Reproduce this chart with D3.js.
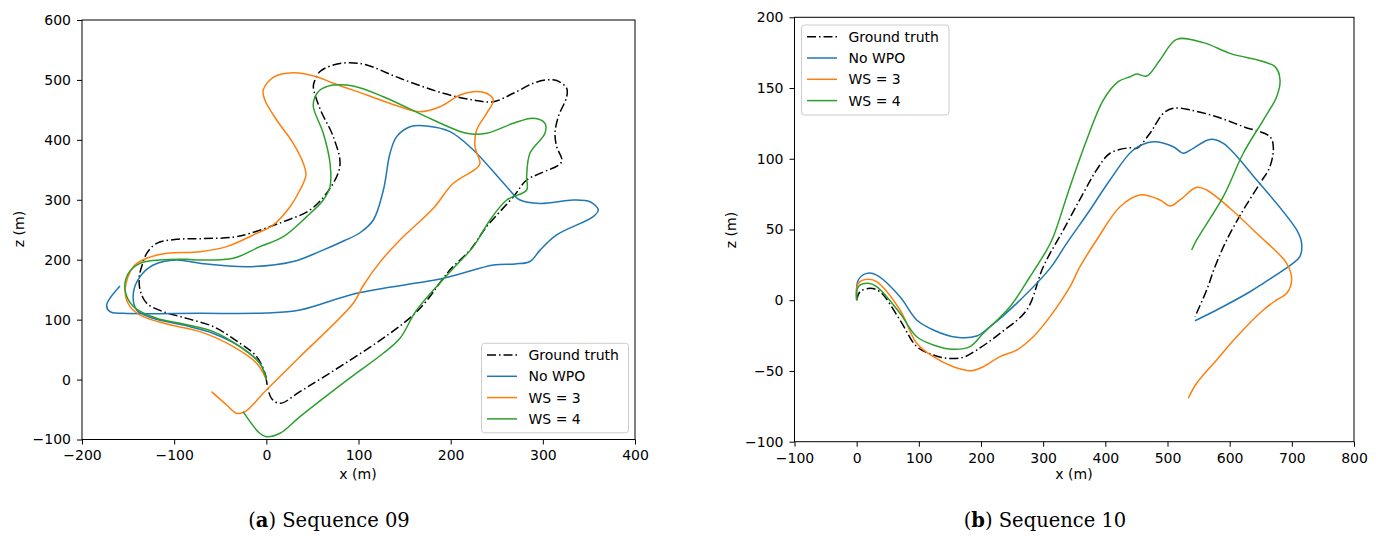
<!DOCTYPE html>
<html><head><meta charset="utf-8">
<script src="https://cdn.jsdelivr.net/npm/d3@7"></script>
<style>body{margin:0;background:#fff}svg{display:block}</style>
</head><body>
<svg id="fig" width="1379" height="539"></svg>
<script>
// ---------- DATA ----------
const seriesNames = ["Ground truth", "No WPO", "WS = 3", "WS = 4"];

// Sequence 09 (x, z in metres)
const seq09_gt = [[0,0],[-1.4,10.4],[-10.5,38.3],[-28.6,60.5],[-57.5,88.3],[-86.4,102.1],[-111.8,113.3],[-129.8,127.3],[-137,149.5],[-137.8,171.7],[-135.3,188.4],[-129.8,210.7],[-119,227.4],[-97.3,234],[-72,235.1],[-35.8,237.6],[-17.7,244],[18.4,263.5],[47.4,283],[69.1,319],[79.9,358],[72.7,405],[58.2,452],[51,488.7],[52.8,500],[58.2,514],[72.7,524.9],[90.8,528.8],[108.9,524.9],[145,502.7],[192,477.7],[224.6,466.5],[246.3,463.7],[268,477.7],[289.6,494.4],[304,500],[315,499],[325.9,486],[325.9,472],[316.8,438.7],[313.2,411],[315,388.6],[320.4,363.6],[297,344],[282.4,333],[268,305],[239,255],[221,216],[201,186],[192,169],[159.5,107.8],[36.5,-20.2],[14.8,-39.6],[5.4,-31],[0,0]];
const seq09_nowpo = [[0,0],[-7,27.2],[-28.6,55],[-57.5,77],[-90,91],[-122.6,102.2],[-140.7,116],[-144.3,144],[-137,171.7],[-122.6,191.2],[-97.3,199.5],[-72,194],[-17.7,188.4],[29.2,197],[58.2,214],[85,232],[101.6,245],[116.1,266.3],[127,316.3],[134.2,377.6],[141.4,405.4],[155.9,422],[174,423.2],[199.3,413.7],[224.6,383.1],[260.8,321.8],[275.2,299.6],[297,294],[333,299.6],[351.2,296.8],[360.2,283],[354.7,271.9],[315,241.3],[297,216],[286,197],[270,193],[246.3,191.2],[192,169],[98,144],[36.5,116],[0,111],[-72,110.6],[-155.2,110.6],[-169.6,113.3],[-173.2,124.4],[-158.8,156.2]];
const seq09_ws3 = [[0,0],[-10.5,27.2],[-35.8,55],[-72,80],[-108.1,92.7],[-133.5,104.9],[-147.9,121.8],[-153.3,149.6],[-144.3,188.4],[-129.8,202.4],[-108.1,210.7],[-72,213.4],[-43.1,221.8],[-14.2,241.3],[7.5,258],[25.7,288.5],[36.5,316.3],[43,341.4],[40.1,360.9],[29.2,394.3],[11.2,433.1],[-1.6,466.5],[-3.4,483.2],[7.5,504.4],[29.2,512.1],[54.6,505.4],[72.7,494.4],[108.9,474.9],[145,455.3],[166.7,447],[188.4,455.3],[210.1,474.8],[224.6,480.4],[239,477.7],[246.3,466.5],[239,444.3],[228.2,416.5],[226.4,388.6],[231.8,360.8],[228.2,352.5],[202.9,327.5],[181.2,285.8],[145,232.9],[123.3,196],[105.2,157],[94.3,127.3],[36.5,38.2],[0,-17.4],[-23.2,-53.6],[-32.2,-56.3],[-43.1,-42.4],[-59.4,-20.2]];
const seq09_ws4 = [[0,0],[-7,27],[-28.6,55],[-57.5,80],[-90,92.7],[-119,102.2],[-144.3,121.8],[-153.3,149.6],[-149.7,177.3],[-137,194],[-115.4,199.5],[-86.4,200.7],[-72,199.5],[-35.8,202.4],[-7,221.8],[18.4,238.5],[43.8,271.9],[61.8,299.6],[69.1,321.9],[69.1,360.9],[61.8,411],[51,455.3],[52.8,472],[58.2,483.2],[65.5,488.8],[72.7,491.6],[94.3,489.9],[127,472],[181.2,433.1],[217.3,411],[239,411],[268,427.6],[289.6,436],[302.3,427.6],[302.3,411],[286,377.6],[282.4,338.5],[282.4,316.3],[260.8,299.6],[242.7,266.3],[224.6,221.8],[202.9,185.7],[163.1,116],[145,68.9],[126.9,43.9],[90.8,2.8],[36.5,-61.9],[14.8,-89.6],[0,-95.3],[-7.2,-89.6],[-25.2,-53.6]];

// Sequence 10 (x, z in metres)
const seq10_gt = [[0,0],[5.4,6],[21.4,8.4],[37.5,6],[69.7,-14],[96.6,-32.8],[123.3,-38.7],[144.8,-41],[171.5,-40.3],[193.1,-35.2],[230.6,-23.4],[273.5,-6.9],[300.2,23.7],[332.4,49.6],[364.5,75.6],[386,92.1],[407.5,103.9],[439.7,107.8],[450.4,107.4],[471.8,118],[493.2,132.1],[509.3,135.7],[536.1,134.5],[579,129.7],[621.9,122.7],[664.8,115.6],[670.2,108.5],[664.8,94.4],[648.7,82.6],[621.9,63.8],[595.2,42.6],[576.4,23.7],[563,7.2],[544.2,-11.6]];
const seq10_nowpo = [[0,0],[2.6,14.3],[16.1,19],[32.2,17.8],[69.7,2.5],[96.6,-14],[123.3,-21],[160.9,-26.2],[193.1,-25.3],[214.5,-18.7],[257.4,-2.2],[311,22.5],[337.8,40.2],[375.3,63.8],[407.5,85],[445,106.2],[477.1,112],[509.3,108.5],[525.4,103.9],[541.5,107.4],[568.3,113.7],[589.7,110.9],[643.4,85],[707.8,49.7],[715.8,40.2],[713.1,31],[700,25.5],[654.1,12],[632.7,6],[579,-6.9],[544.2,-14.5]];
const seq10_ws3 = [[0,0],[2.6,12],[18.7,14.8],[32.2,13.1],[69.7,-6.9],[96.6,-30.4],[123.3,-39.9],[155.5,-47],[185,-49.8],[203.7,-47],[230.6,-39.9],[257.4,-35.2],[284.1,-25.8],[311,-11.6],[343.2,9.6],[359.2,23.7],[386,42.6],[423.6,66.1],[455.7,74.4],[487.9,70.9],[504,66.6],[520.1,70.9],[546.9,79.8],[563,77.9],[600.5,65],[643.4,47.3],[691.7,26.1],[699.7,14.3],[691.7,4.9],[675.6,0.2],[654.1,-6.9],[611.3,-25.8],[579,-42.2],[546.9,-58.7],[533.4,-69.3]];
const seq10_ws4 = [[0,0],[2.6,9.6],[18.7,12],[32.2,9.6],[69.7,-9.2],[96.6,-25.8],[123.3,-31.6],[155.5,-34.7],[182.3,-32.8],[203.7,-23.4],[246.6,-4.6],[278.8,16.6],[305.7,35.5],[316.3,44.9],[343.2,80.3],[370,113.3],[396.7,141.5],[420.8,154.5],[439.7,158],[450.4,159.9],[466.5,158.5],[487.9,169.8],[514.7,184.4],[557.6,182.1],[600.5,174.5],[672.9,165.1],[681,155.7],[675.6,143.9],[654.1,127.4],[621.9,103.9],[589.7,73.2],[546.9,42.6],[538.9,35.5]];

// Tick labels
const seq09_xTicks = [-200,-100,0,100,200,300,400];
const seq09_yTicks = [-100,0,100,200,300,400,500,600];
const seq10_xTicks = [-100,0,100,200,300,400,500,600,700,800];
const seq10_yTicks = [-100,-50,0,50,100,150,200];

const captions = [["a", " Sequence 09"], ["b", " Sequence 10"]];

// ---------- STYLE / LAYOUT ----------
const colors = ["#000000", "#1f77b4", "#ff7f0e", "#2ca02c"];
const dashes = ["9,3,1.5,3", null, null, null];
const FONT = "'DejaVu Sans', sans-serif";

const panels = [
  { data:[seq09_gt, seq09_nowpo, seq09_ws3, seq09_ws4], xDom:[-200,400], yDom:[-100,600],
    xR:[82,635], yR:[439.5,20], xT:seq09_xTicks, yT:seq09_yTicks,
    leg:{x:481.5,y:343.3,w:147,h:89.5}, xlab:[358,479], ylab:[19,229], cap:[329,527], capIdx:0 },
  { data:[seq10_gt, seq10_nowpo, seq10_ws3, seq10_ws4], xDom:[-100,800], yDom:[-100,200],
    xR:[794.5,1354], yR:[441.7,17.3], xT:seq10_xTicks, yT:seq10_yTicks,
    leg:{x:801.5,y:25,w:147.5,h:90}, xlab:[1074,479], ylab:[731,230], cap:[1045,527], capIdx:1 }
];

const svg = d3.select("#fig");
svg.append("rect").attr("width",1379).attr("height",539).attr("fill","#fff");

panels.forEach(p => {
  const x = d3.scaleLinear().domain(p.xDom).range(p.xR);
  const y = d3.scaleLinear().domain(p.yDom).range(p.yR);
  const g = svg.append("g");

  const clipId = "clip" + p.capIdx;
  g.append("clipPath").attr("id", clipId).append("rect")
    .attr("x", p.xR[0]).attr("y", p.yR[1]).attr("width", p.xR[1]-p.xR[0]).attr("height", p.yR[0]-p.yR[1]);

  const line = d3.line().x(d => x(d[0])).y(d => y(d[1])).curve(d3.curveCatmullRom.alpha(0.5));
  const lines = g.append("g").attr("clip-path", `url(#${clipId})`);
  p.data.forEach((s, i) => {
    lines.append("path").attr("d", line(s)).attr("fill","none")
      .attr("stroke", colors[i]).attr("stroke-width", 1.5)
      .attr("stroke-linejoin","round")
      .attr("stroke-dasharray", dashes[i]);
  });

  // axes
  const xa = g.append("g").attr("transform", `translate(0,${p.yR[0]})`)
    .call(d3.axisBottom(x).tickValues(p.xT).tickSize(5).tickPadding(6));
  const ya = g.append("g").attr("transform", `translate(${p.xR[0]},0)`)
    .call(d3.axisLeft(y).tickValues(p.yT).tickSize(5).tickPadding(6));
  [xa, ya].forEach(a => {
    a.select(".domain").remove();
    a.selectAll("text").attr("font-family", FONT).attr("font-size", 14).attr("fill", "#000");
    a.selectAll("line").attr("stroke", "#000").attr("stroke-width", 1);
  });

  // frame
  g.append("rect").attr("x", p.xR[0]).attr("y", p.yR[1])
    .attr("width", p.xR[1]-p.xR[0]).attr("height", p.yR[0]-p.yR[1])
    .attr("fill","none").attr("stroke","#000").attr("stroke-width",1);

  // axis labels
  g.append("text").attr("x", p.xlab[0]).attr("y", p.xlab[1]).attr("text-anchor","middle")
    .attr("font-family", FONT).attr("font-size", 14).text("x (m)");
  g.append("text").attr("transform", `translate(${p.ylab[0]},${p.ylab[1]}) rotate(-90)`)
    .attr("text-anchor","middle").attr("dy","0.35em")
    .attr("font-family", FONT).attr("font-size", 14).text("z (m)");

  // legend
  const L = p.leg;
  const lg = g.append("g");
  lg.append("rect").attr("x", L.x).attr("y", L.y).attr("width", L.w).attr("height", L.h)
    .attr("rx", 3).attr("fill","#fff").attr("fill-opacity",0.8).attr("stroke","#cccccc").attr("stroke-width",1);
  seriesNames.forEach((n, i) => {
    const cy = L.y + 11.7 + i*21.3;
    lg.append("line").attr("x1", L.x+5.5).attr("x2", L.x+35.5).attr("y1", cy).attr("y2", cy)
      .attr("stroke", colors[i]).attr("stroke-width", 1.5).attr("stroke-dasharray", dashes[i]);
    lg.append("text").attr("x", L.x+47).attr("y", cy).attr("dy","0.36em")
      .attr("font-family", FONT).attr("font-size", 14).text(n);
  });

  // caption
  const c = captions[p.capIdx];
  const t = g.append("text").attr("x", p.cap[0]).attr("y", p.cap[1]).attr("text-anchor","middle")
    .attr("font-family", "'DejaVu Serif', serif").attr("font-size", 19.5);
  t.append("tspan").text("(");
  t.append("tspan").attr("font-weight","bold").text(c[0]);
  t.append("tspan").text(")" + c[1]);
});
</script>
</body></html>
